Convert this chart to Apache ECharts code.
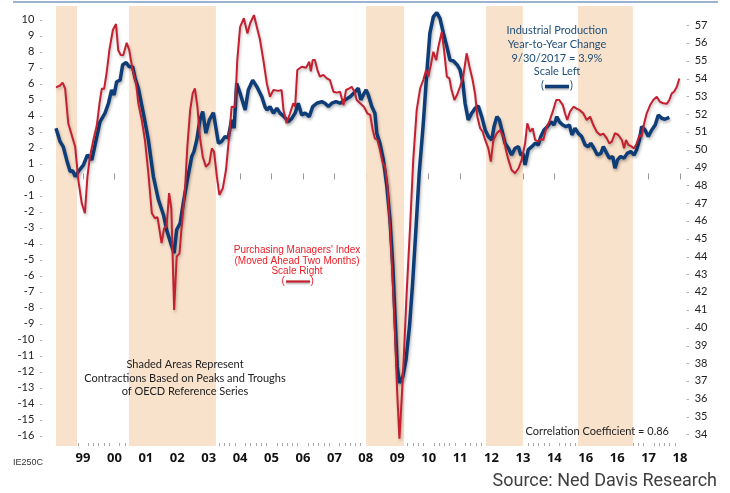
<!DOCTYPE html>
<html><head><meta charset="utf-8">
<script src="https://cdn.jsdelivr.net/npm/echarts@6/dist/echarts.min.js"></script>
<style>html,body{margin:0;padding:0;background:#fff}#c{width:730px;height:493px}</style>
</head><body><div id="c"></div>
<script>
// ---- data ----
const years = [1999,2000,2001,2002,2003,2004,2005,2006,2007,2008,2009,2010,2011,2012,2013,2014,2015,2016,2017,2018];
const yearLabels = ['99','00','01','02','03','04','05','06','07','08','09','10','11','12','13','14','16','16','17','18'];
const leftTicks = [-16,-15,-14,-13,-12,-11,-10,-9,-8,-7,-6,-5,-4,-3,-2,-1,0,1,2,3,4,5,6,7,8,9,10];
const rightTicks = [34,35,36,37,38,39,40,41,42,43,44,45,46,47,48,49,50,51,52,53,54,55,56,57];
const shadeStart = [1998.14, 2000.46, 2008.01, 2011.83, 2014.75];
const shadeEnd   = [1998.81, 2003.23, 2009.22, 2013.00, 2016.50];

const ipDates = [1998.14,1998.27,1998.37,1998.48,1998.59,1998.67,1998.75,1998.85,1999.01,1999.14,
1999.28,1999.44,1999.54,1999.70,1999.81,1999.91,1999.99,2000.07,2000.18,2000.26,
2000.37,2000.47,2000.58,2000.66,2000.76,2000.92,2001.08,2001.24,2001.40,2001.56,
2001.66,2001.79,2001.90,2001.98,2002.09,2002.19,2002.32,2002.46,2002.53,2002.62,
2002.72,2002.81,2002.91,2003.02,2003.15,2003.31,2003.41,2003.52,2003.62,2003.73,
2003.81,2003.89,2004.00,2004.16,2004.26,2004.40,2004.53,2004.69,2004.79,2004.85,
2004.95,2005.06,2005.17,2005.27,2005.40,2005.53,2005.64,2005.75,2005.85,2005.96,
2006.07,2006.20,2006.31,2006.44,2006.60,2006.70,2006.81,2006.92,2007.05,2007.18,
2007.34,2007.50,2007.66,2007.76,2007.84,2007.92,2008.01,2008.08,2008.19,2008.29,
2008.35,2008.45,2008.56,2008.67,2008.77,2008.86,2008.93,2009.00,2009.07,2009.18,
2009.28,2009.39,2009.49,2009.60,2009.70,2009.83,2009.94,2010.04,2010.15,2010.26,
2010.36,2010.47,2010.58,2010.68,2010.79,2010.91,2011.00,2011.09,2011.16,2011.26,
2011.37,2011.48,2011.58,2011.69,2011.80,2011.90,2012.01,2012.08,2012.17,2012.25,
2012.33,2012.43,2012.54,2012.64,2012.75,2012.86,2012.93,2013.00,2013.07,2013.17,
2013.28,2013.39,2013.49,2013.57,2013.67,2013.78,2013.89,2013.99,2014.08,2014.16,
2014.27,2014.37,2014.48,2014.56,2014.66,2014.76,2014.87,2014.98,2015.08,2015.16,
2015.26,2015.37,2015.48,2015.56,2015.67,2015.75,2015.86,2015.93,2016.01,2016.11,
2016.22,2016.32,2016.43,2016.54,2016.62,2016.71,2016.78,2016.89,2016.99,2017.10,
2017.21,2017.31,2017.42,2017.52,2017.66];
const ipValues = [3.2,2.36,2.05,1.22,0.49,0.55,0.18,0.5,0.9,1.53,
1.22,2.68,3.6,4.14,4.76,5.59,5.28,6.1,6.2,7.15,
7.3,7.04,7.04,6.3,5.7,4.14,2.47,0.18,-1.27,-2.2,
-3.14,-3.97,-4.6,-3.14,-2.73,-1.48,-0.03,1.43,1.74,2.47,
3.72,4.24,2.89,3.72,4.17,2.26,2.37,2.68,2.6,3.72,
3.2,6.0,5.38,4.34,5.59,6.2,5.8,5.17,4.55,4.34,
4.55,4.14,4.45,4.14,3.92,3.61,3.8,4.14,4.76,4.03,
4.14,3.92,4.55,4.76,4.86,4.76,4.55,4.76,4.86,4.76,
4.97,5.17,5.48,5.7,4.97,5.28,5.59,5.28,4.55,4.14,
2.89,2.26,1.22,-0.44,-2.52,-5.43,-8.55,-11.67,-12.71,-12.3,
-11.25,-9.18,-6.47,-2.94,0.39,3.51,6.63,9.13,10.16,10.41,
10.06,9.13,8.29,7.46,7.4,7.15,6.84,6.0,4.76,3.72,
4.14,4.45,4.59,3.92,3.09,2.68,2.47,3.3,3.92,3.72,
3.09,2.26,1.95,1.53,1.95,2.05,1.53,1.63,0.91,1.85,
2.05,2.26,2.16,2.68,3.09,3.3,3.61,3.4,3.92,3.61,
3.4,3.3,3.4,2.78,3.2,2.89,2.68,2.16,2.05,2.26,
1.95,1.53,1.63,2.05,1.63,1.33,1.43,0.7,1.22,1.43,
1.33,1.63,1.74,1.53,1.85,2.47,3.3,3.09,2.68,3.09,
3.4,4.03,3.82,3.76,3.88];

const pmiDates = [1998.14,1998.27,1998.35,1998.43,1998.53,1998.64,1998.75,1998.85,1998.96,1999.06,
1999.14,1999.22,1999.33,1999.44,1999.54,1999.60,1999.67,1999.75,1999.84,1999.95,
2000.05,2000.12,2000.20,2000.28,2000.39,2000.47,2000.58,2000.69,2000.76,2000.87,
2000.97,2001.08,2001.19,2001.29,2001.37,2001.45,2001.50,2001.58,2001.66,2001.74,
2001.81,2001.90,2001.98,2002.07,2002.14,2002.25,2002.32,2002.41,2002.49,2002.56,
2002.64,2002.72,2002.81,2002.91,2003.02,2003.10,2003.17,2003.26,2003.34,2003.45,
2003.55,2003.66,2003.73,2003.84,2003.91,2004.00,2004.12,2004.23,2004.32,2004.44,
2004.53,2004.63,2004.74,2004.85,2004.95,2005.06,2005.22,2005.32,2005.38,2005.48,
2005.59,2005.69,2005.75,2005.82,2005.96,2006.10,2006.20,2006.25,2006.31,2006.38,
2006.46,2006.54,2006.65,2006.76,2006.86,2006.97,2007.08,2007.18,2007.29,2007.37,
2007.48,2007.55,2007.64,2007.71,2007.82,2007.94,2008.05,2008.14,2008.22,2008.29,
2008.37,2008.45,2008.54,2008.61,2008.69,2008.77,2008.86,2008.93,2009.00,2009.07,
2009.14,2009.22,2009.30,2009.41,2009.51,2009.62,2009.73,2009.83,2009.92,2009.99,
2010.07,2010.15,2010.24,2010.31,2010.42,2010.49,2010.58,2010.66,2010.73,2010.82,
2010.91,2011.00,2011.10,2011.21,2011.30,2011.40,2011.48,2011.55,2011.64,2011.72,
2011.80,2011.90,2011.98,2012.06,2012.17,2012.27,2012.38,2012.46,2012.54,2012.64,
2012.75,2012.86,2012.96,2013.07,2013.14,2013.23,2013.31,2013.39,2013.49,2013.57,
2013.65,2013.74,2013.84,2013.95,2014.06,2014.16,2014.27,2014.34,2014.41,2014.50,
2014.61,2014.71,2014.82,2014.92,2015.03,2015.14,2015.24,2015.35,2015.46,2015.56,
2015.67,2015.75,2015.83,2015.93,2016.04,2016.15,2016.22,2016.28,2016.36,2016.43,
2016.54,2016.62,2016.71,2016.78,2016.86,2016.94,2017.05,2017.15,2017.26,2017.36,
2017.47,2017.58,2017.66,2017.74,2017.81,2017.90,2017.98];
const pmiValues = [53.5,53.6,53.76,53.44,51.48,50.82,50.16,48.29,46.98,46.42,
48.48,49.6,50.54,51.38,52.79,53.44,53.4,54.29,55.6,56.72,
57.06,55.6,55.31,55.3,56.0,55.6,54.47,53.72,52.6,51.66,
50.54,48.67,46.42,46.14,46.2,45.3,44.74,45.58,45.67,47.55,
46.7,40.99,43.98,44.17,45.67,47.9,50.16,52.22,53.16,53.44,
52.41,50.72,49.6,49.04,49.23,50.07,49.88,48.48,47.45,47.83,
48.85,50.92,52.41,52.4,55.03,56.9,57.38,56.53,57.1,57.56,
56.9,56.2,55.03,53.72,52.97,53.35,53.3,53.35,52.22,51.48,
52.04,52.6,52.4,54.47,54.66,54.6,54.94,54.4,55.03,55.03,
54.47,54.1,54.2,54.0,53.9,53.25,53.2,53.25,52.5,53.35,
53.44,53.53,53.25,52.79,52.6,52.41,52.04,51.95,51.1,50.63,
50.54,49.98,49.23,49.04,47.92,45.67,42.49,39.68,36.31,33.75,
35.93,38.74,41.93,45.67,49.42,52.22,53.44,53.91,54.47,54.1,
54.75,55.5,55.03,55.78,56.62,55.6,54.1,54.0,53.35,52.79,
53.1,53.53,54.1,55.41,54.66,53.91,53.1,51.85,51.2,51.0,
50.54,50.07,49.32,50.54,50.92,51.1,50.72,49.98,49.42,48.85,
48.67,48.95,49.42,50.35,51.48,51.0,51.2,50.54,50.45,50.6,
50.54,51.2,51.57,52.13,52.79,52.79,52.5,52.04,51.66,52.13,
52.41,52.3,52.2,52.04,51.66,51.85,51.38,51.0,50.82,50.9,
50.63,50.35,50.45,50.92,50.82,50.54,50.07,50.54,50.26,50.2,
50.07,50.35,50.82,50.72,51.48,52.04,52.5,52.79,52.97,52.69,
52.6,52.57,52.79,53.16,53.25,53.53,54.0];

// ---- build ----
const BLUE = '#0e3d78', RED = '#c4202f', SHADE = '#f9e2cb';
const FONT = 'Lato';
const pair = (xs, ys) => xs.map((x, i) => [x, ys[i]]);
const minorTicks = [];
for (const y of [1998].concat(years)) for (let k = 1; k < 6; k++) { const v = y + k / 6; if (v > 1998.14 && v < 2018) minorTicks.push(v); }

const chart = echarts.init(document.getElementById('c'));
chart.setOption({
  animation: false,
  backgroundColor: '#fff',
  grid: { left: 56, right: 50, top: 6, bottom: 47 },
  xAxis: [{
    type: 'value', min: 1998.14, max: 2018,
    axisLine: { show: false }, splitLine: { show: false },
    axisTick: { show: true, inside: true, length: 6, customValues: years, lineStyle: { color: '#999' } },
    axisLabel: { customValues: years, margin: 6, fontFamily: 'Open Sans', fontWeight: 'bold', fontSize: 13, color: '#111',
      formatter: v => yearLabels[years.indexOf(Math.round(v))] }
  }, {
    type: 'value', min: 1998.14, max: 2018, position: 'bottom',
    axisLine: { show: false }, splitLine: { show: false }, axisLabel: { show: false },
    axisTick: { show: true, inside: true, length: 3, customValues: minorTicks, lineStyle: { color: '#aaa' } }
  }],
  yAxis: [{
    type: 'value', min: -16.64, max: 10.83, position: 'left',
    axisLine: { show: false }, splitLine: { show: false }, axisTick: { show: false },
    axisLabel: { customValues: leftTicks, margin: 13, formatter: v => '{v|' + v + '}{d|-}',
      rich: { v: { fontFamily: FONT, fontSize: 11, color: '#222' }, d: { fontFamily: FONT, fontSize: 10, color: '#999', padding: [0, 0, 0, 5] } } }
  }, {
    type: 'value', min: 33.34, max: 58.07, position: 'right',
    axisLine: { show: false }, splitLine: { show: false }, axisTick: { show: false },
    axisLabel: { customValues: rightTicks, margin: 6, formatter: v => '{d|-}{v|' + v + '}',
      rich: { v: { fontFamily: FONT, fontSize: 11, color: '#222' }, d: { fontFamily: FONT, fontSize: 10, color: '#999', padding: [0, 5, 0, 0] } } }
  }],
  series: [{
    type: 'line', data: [], xAxisIndex: 0, yAxisIndex: 0, z: 1, silent: true,
    markArea: { silent: true, itemStyle: { color: SHADE }, data: shadeStart.map((s, i) => [{ xAxis: s }, { xAxis: shadeEnd[i] }]) }
  }, {
    name: 'Industrial Production', type: 'line', xAxisIndex: 0, yAxisIndex: 0, z: 3,
    data: pair(ipDates, ipValues), showSymbol: false, smooth: false,
    lineStyle: { color: BLUE, width: 3.5, shadowColor: 'rgba(0,0,0,0.3)', shadowBlur: 3, shadowOffsetX: 1, shadowOffsetY: 2 }
  }, {
    name: 'PMI', type: 'line', xAxisIndex: 0, yAxisIndex: 1, z: 4,
    data: pair(pmiDates, pmiValues), showSymbol: false, smooth: false,
    lineStyle: { color: RED, width: 2, shadowColor: 'rgba(0,0,0,0.25)', shadowBlur: 3, shadowOffsetX: 1, shadowOffsetY: 2 }
  }],
  graphic: [
    { type: 'line', shape: { x1: 13, y1: 2, x2: 718, y2: 2 }, style: { stroke: '#3a66a0', lineWidth: 1.2 } },
    { type: 'text', x: 557, y: 24, z: 10, style: { text: 'Industrial Production\nYear-to-Year Change\n9/30/2017 = 3.9%\nScale Left', textAlign: 'center', textVerticalAlign: 'top', font: '11px Lato', lineHeight: 13.7, fill: '#1f4e79' } },
    { type: 'text', x: 541, y: 80, z: 10, style: { text: '(', textAlign: 'left', font: '11px Lato', fill: '#1f4e79' } },
    { type: 'text', x: 570, y: 80, z: 10, style: { text: ')', textAlign: 'left', font: '11px Lato', fill: '#1f4e79' } },
    { type: 'line', z: 10, shape: { x1: 545, y1: 86.5, x2: 569, y2: 86.5 }, style: { stroke: BLUE, lineWidth: 3.5, shadowColor: 'rgba(0,0,0,0.3)', shadowBlur: 2, shadowOffsetY: 1.5 } },
    { type: 'text', x: 297, y: 245.5, z: 10, style: { text: "Purchasing Managers' Index\n(Moved Ahead Two Months)\nScale Right", textAlign: 'center', textVerticalAlign: 'top', font: '10px "Liberation Sans"', lineHeight: 10.3, fill: '#ec1c24' } },
    { type: 'text', x: 281.5, y: 276, z: 10, style: { text: '(', textAlign: 'left', font: '10px "Liberation Sans"', fill: '#ec1c24' } },
    { type: 'text', x: 310.5, y: 276, z: 10, style: { text: ')', textAlign: 'left', font: '10px "Liberation Sans"', fill: '#ec1c24' } },
    { type: 'line', z: 10, shape: { x1: 286, y1: 281.5, x2: 310, y2: 281.5 }, style: { stroke: RED, lineWidth: 2.2, shadowColor: 'rgba(0,0,0,0.3)', shadowBlur: 2, shadowOffsetY: 1.5 } },
    { type: 'text', x: 185, y: 357.5, z: 10, style: { text: 'Shaded Areas Represent\nContractions Based on Peaks and Troughs\nof OECD Reference Series', textAlign: 'center', textVerticalAlign: 'top', font: '11px Lato', lineHeight: 13.7, fill: '#222' } },
    { type: 'text', x: 669, y: 426, z: 10, style: { text: 'Correlation Coefficient = 0.86', textAlign: 'right', textVerticalAlign: 'top', font: '11px Lato', fill: '#222' } },
    { type: 'text', x: 13, y: 458, z: 10, style: { text: 'IE250C', textAlign: 'left', textVerticalAlign: 'top', font: '9px "Liberation Sans"', fill: '#333' } },
    { type: 'text', x: 717, y: 472, z: 10, style: { text: 'Source: Ned Davis Research', textAlign: 'right', textVerticalAlign: 'top', font: '18px Roboto', fill: '#404040' } }
  ]
});
</script>
</body></html>
